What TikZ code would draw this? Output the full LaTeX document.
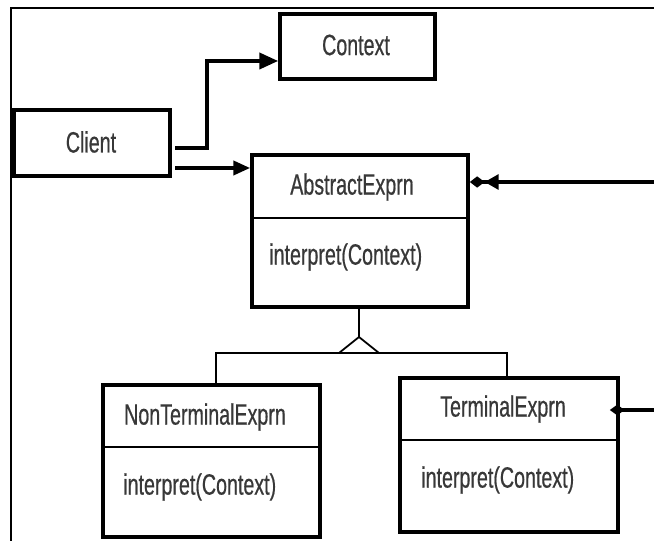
\documentclass[tikz,border=0pt]{standalone}
\usepackage{fontspec}
\setmainfont{Liberation Sans}[FakeStretch=0.67,FakeBold=0.6]
\usetikzlibrary{arrows.meta,fit}
\begin{document}
\begin{tikzpicture}[x=0.75pt,y=-0.75pt,
  umlbox/.style={draw=black,line width=2.8pt,inner sep=0pt},
  lbl/.style={inner sep=0pt,text=black!78,font=\fontsize{22}{25}\selectfont},
  thinline/.style={line width=1.3pt,black},
  assoc/.style={line width=2.6pt,black},
  frame/.style={line width=2.2pt,black}]
\useasboundingbox (0,0) rectangle (654,541);
% frame
\coordinate (f0) at (11,541);
\coordinate (f1) at (11,8);
\coordinate (f2) at (654,8);
\draw[frame] (f0) -- (f1) -- (f2);
% boxes
\node[umlbox,fit={(14,110) (170,176)}] (client) {};
\node[umlbox,fit={(280,14) (435,79)}] (ctx) {};
\node[umlbox,fit={(252,155) (468,307)}] (abs) {};
\node[umlbox,fit={(103,385) (320,537)}] (nt) {};
\node[umlbox,fit={(400,378) (618,532)}] (term) {};
% dividers
\coordinate (dA) at (0,218);
\coordinate (dN) at (0,447);
\coordinate (dT) at (0,440);
\draw[thinline] (abs.west |- dA) -- (abs.east |- dA);
\draw[thinline] (nt.west |- dN) -- (nt.east |- dN);
\draw[thinline] (term.west |- dT) -- (term.east |- dT);
% texts
\node[lbl] (clientT) at (91,142) {Client};
\node[lbl] (ctxT) at (356,45) {Context};
\node[lbl] (absT) at (352,187) {AbstractExprn};
\node[lbl,anchor=west] (absM) at (269,257) {interpret(Context)};
\node[lbl] (ntT) at (205,417) {NonTerminalExprn};
\node[lbl,anchor=west] (ntM) at (123,487) {interpret(Context)};
\node[lbl] (termT) at (503,409) {TerminalExprn};
\node[lbl,anchor=west] (termM) at (421,480) {interpret(Context)};
% client associations
\coordinate (c1) at (175,148);
\coordinate (bend) at (207,61);
\coordinate (c2) at (175,168);
\draw[assoc,-{Triangle[length=14pt,width=12pt]}] (c1) -| (bend) -- (ctx.west |- bend);
\draw[assoc,-{Triangle[length=12.5pt,width=10.5pt]}] (c2) -- (abs.west |- c2);
% aggregation to AbstractExprn
\coordinate (r1) at (654,182);
\draw[assoc,-{Triangle[length=10.5pt,width=11pt]Diamond[length=11pt,width=8.5pt]}] (r1) -- (abs.east |- r1);
% aggregation to TerminalExprn
\coordinate (r2) at (654,410);
\draw[assoc,shorten >=-7.5pt,-{Diamond[length=11pt,width=8pt]}] (r2) -- (term.east |- r2);
% inheritance
\coordinate (apex) at (359,337);
\coordinate (lv) at (216,353);
\coordinate (rv) at (507,353);
\draw[thinline] (abs.south -| apex) -- (apex);
\draw[thinline,fill=white] (apex) -- ++(-20,16) -- ++(40,0) -- cycle;
\draw[thinline] (lv |- nt.north) -- (lv) -- (rv) -- (rv |- term.north);
\end{tikzpicture}
\end{document}
